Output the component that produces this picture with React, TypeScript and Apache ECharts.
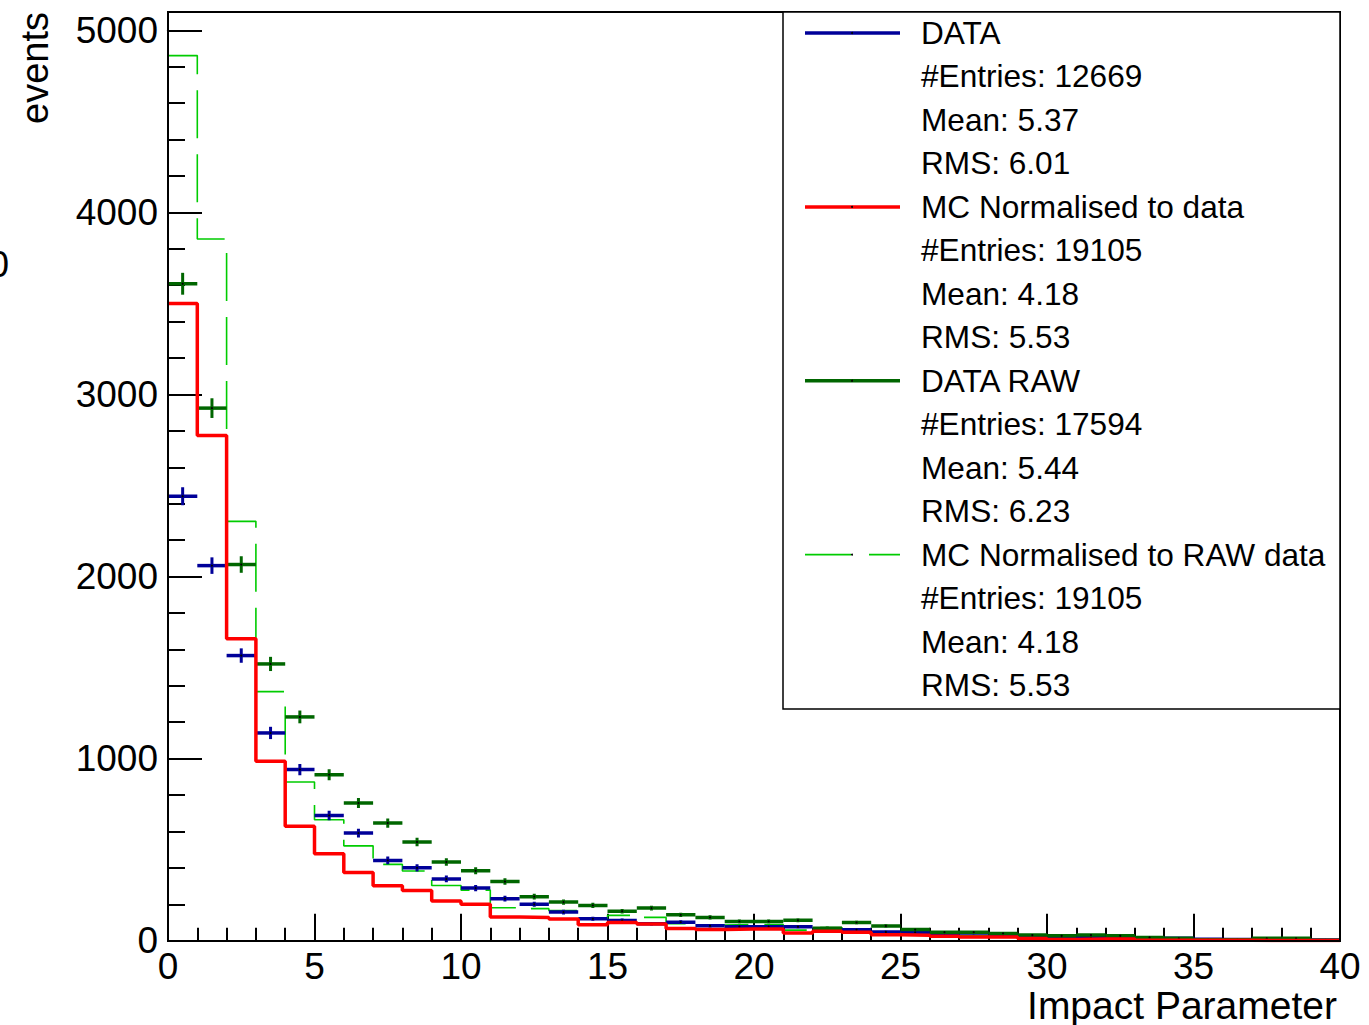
import { useEffect, useRef } from "react";
import * as echarts from "echarts";

// bin lower edges (bin width 1)
const BIN_LOW = [0, 1, 2, 3, 4, 5, 6, 7, 8, 9, 10, 11, 12, 13, 14, 15, 16, 17, 18, 19,
  20, 21, 22, 23, 24, 25, 26, 27, 28, 29, 30, 31, 32, 33, 34, 35, 36, 37, 38, 39];
const BIN_WIDTH = 1;

const DATA = [2441, 2060, 1566, 1141, 940, 688, 591, 441, 400, 339, 289, 231, 200, 157, 120, 111, 93, 102, 82, 77,
  77, 77, 64, 60, 48, 46, 40, 42, 33, 27, 22, 20, 18, 13, 13, 8, 7, 8, 6, 4];
const DATA_RAW = [3608, 2925, 2066, 1520, 1229, 912, 756, 646, 542, 432, 384, 325, 242, 212, 194, 162, 179, 142, 128, 106,
  106, 112, 69, 100, 81, 61, 47, 47, 40, 31, 27, 31, 27, 18, 13, 5, 5, 13, 13, 2];
const MC_DATA = [3500, 2775, 1658, 985, 628, 478, 375, 302, 276, 218, 200, 130, 127, 119, 88, 100, 92, 67, 62, 64,
  64, 42, 52, 46, 33, 30, 24, 20, 20, 12, 6, 9, 9, 2, 2, 2, 2, 1, 1, 1];
const MC_RAW = [4861, 3854, 2303, 1368, 872, 664, 521, 419, 383, 303, 278, 181, 176, 165, 122, 139, 128, 93, 86, 89,
  89, 58, 72, 64, 46, 42, 33, 28, 28, 17, 8, 13, 13, 3, 3, 3, 3, 1, 1, 1];

const X_MIN = 0;
const X_MAX = 40;
const Y_MIN = 0;
const Y_MAX = 5000;

const LEGEND_NAMES = ["DATA", "MC Normalised to data", "DATA RAW", "MC Normalised to RAW data"];
const LEGEND_ENTRIES = ["#Entries: 12669", "#Entries: 19105", "#Entries: 17594", "#Entries: 19105"];
const LEGEND_MEANS = ["Mean: 5.37", "Mean: 4.18", "Mean: 5.44", "Mean: 4.18"];
const LEGEND_RMS = ["RMS: 6.01", "RMS: 5.53", "RMS: 6.23", "RMS: 5.53"];

const X_TITLE = "Impact Parameter";
const Y_TITLE = "events";

const BLUE = "#000099";
const RED = "#ff0000";
const DKGREEN = "#006600";
const LTGREEN = "#00cc00";
const FONT = "Liberation Sans, Arial, Helvetica, sans-serif";

const LEG_COLORS = [BLUE, RED, DKGREEN, LTGREEN];
const LEG_WIDTHS = [3.5, 3.5, 3.5, 1.6];
const LEG_DASH: (number[] | null)[] = [null, null, null, [46, 18]];

function histLine(values: number[]) {
  const pts = BIN_LOW.map((x, i) => [x, values[i]]);
  pts.push([BIN_LOW[BIN_LOW.length - 1] + BIN_WIDTH, values[values.length - 1]]);
  return pts;
}

function errorSeries(values: number[], color: string, name: string) {
  return {
    type: "custom",
    name,
    data: BIN_LOW.map((x, i) => [x, values[i]]),
    encode: { x: 0, y: 1 },
    clip: true,
    z: 3,
    renderItem: (params: any, api: any) => {
      const x0 = api.value(0);
      const v = api.value(1);
      const e = Math.sqrt(v);
      const pL = api.coord([x0, v]);
      const pR = api.coord([x0 + BIN_WIDTH, v]);
      const pT = api.coord([x0 + BIN_WIDTH / 2, v + e]);
      const pB = api.coord([x0 + BIN_WIDTH / 2, Math.max(0, v - e)]);
      return {
        type: "group",
        children: [
          { type: "line", shape: { x1: pL[0], y1: pL[1], x2: pR[0], y2: pR[1] }, style: { stroke: color, lineWidth: 3.5 } },
          { type: "line", shape: { x1: pT[0], y1: pT[1], x2: pB[0], y2: pB[1] }, style: { stroke: color, lineWidth: 3 } },
          { type: "circle", shape: { cx: (pL[0] + pR[0]) / 2, cy: pL[1], r: 1.1 }, style: { fill: "#000" } },
        ],
      };
    },
  };
}

export default function App() {
  const ref = useRef<HTMLDivElement>(null);
  useEffect(() => {
    if (!ref.current) return;
    const chart = echarts.init(ref.current, null, { renderer: "svg" });

    const legendGraphics: any[] = [
      {
        type: "rect",
        z: 50,
        shape: { x: 783, y: 12, width: 557, height: 697 },
        style: { fill: "#fff", stroke: "#000", lineWidth: 1.5 },
      },
    ];
    const rowH = 43.47;
    for (let k = 0; k < 4; k++) {
      const baseRow = k * 4;
      const yLine = 33 + baseRow * rowH;
      legendGraphics.push({
        type: "line",
        z: 51,
        shape: { x1: 805, y1: yLine, x2: 900, y2: yLine },
        style: { stroke: LEG_COLORS[k], lineWidth: LEG_WIDTHS[k], lineDash: LEG_DASH[k] || undefined },
      });
      legendGraphics.push({
        type: "circle",
        z: 52,
        shape: { cx: 852, cy: yLine, r: 1 },
        style: { fill: "#000" },
      });
      const texts = [LEGEND_NAMES[k], LEGEND_ENTRIES[k], LEGEND_MEANS[k], LEGEND_RMS[k]];
      texts.forEach((t, j) => {
        legendGraphics.push({
          type: "text",
          z: 52,
          x: 921,
          y: 33 + (baseRow + j) * rowH,
          style: { text: t, fontSize: 31.6, fontFamily: FONT, fill: "#000", align: "left", verticalAlign: "middle" },
        });
      });
    }

    const option: any = {
      animation: false,
      backgroundColor: "#fff",
      grid: { left: 168, right: 29, top: 30.3, bottom: 84.3, containLabel: false },
      xAxis: {
        type: "value",
        min: X_MIN,
        max: X_MAX,
        interval: 5,
        axisLine: { show: true, lineStyle: { color: "#000", width: 2 } },
        axisTick: { show: true, inside: true, length: 27, lineStyle: { color: "#000", width: 2 } },
        minorTick: { show: true, splitNumber: 5, length: 13, lineStyle: { color: "#000", width: 2 } },
        axisLabel: { color: "#000", fontSize: 37, fontFamily: FONT, margin: 7, formatter: (v: number) => String(v) },
        splitLine: { show: false },
      },
      yAxis: {
        type: "value",
        min: Y_MIN,
        max: Y_MAX,
        interval: 1000,
        axisLine: { show: true, lineStyle: { color: "#000", width: 2 } },
        axisTick: { show: true, inside: true, length: 34, lineStyle: { color: "#000", width: 2 } },
        minorTick: { show: true, splitNumber: 5, length: 17, lineStyle: { color: "#000", width: 2 } },
        axisLabel: { color: "#000", fontSize: 37, fontFamily: FONT, margin: 10, formatter: (v: number) => String(v) },
        splitLine: { show: false },
      },
      graphic: [
        {
          type: "rect",
          z: 40,
          shape: { x: 168, y: 12, width: 1172, height: 929 },
          style: { fill: "none", stroke: "#000", lineWidth: 2 },
        },
        {
          type: "text",
          x: 1337,
          y: 1005,
          style: { text: X_TITLE, fontSize: 39, fontFamily: FONT, fill: "#000", align: "right", verticalAlign: "middle" },
        },
        {
          type: "text",
          x: 35,
          y: 12,
          rotation: Math.PI / 2,
          style: { text: Y_TITLE, fontSize: 38, fontFamily: FONT, fill: "#000", align: "right", verticalAlign: "middle" },
        },
        {
          type: "text",
          x: 9,
          y: 264,
          style: { text: "0", fontSize: 37, fontFamily: FONT, fill: "#000", align: "right", verticalAlign: "middle" },
        },
        ...legendGraphics,
      ],
      series: [
        {
          type: "line",
          name: "MC Normalised to RAW data",
          data: histLine(MC_RAW),
          step: "end",
          showSymbol: false,
          symbol: "none",
          z: 2,
          lineStyle: { color: LTGREEN, width: 1.6, type: [48, 16] },
        },
        errorSeries(DATA, BLUE, "DATA"),
        errorSeries(DATA_RAW, DKGREEN, "DATA RAW"),
        {
          type: "line",
          name: "MC Normalised to data",
          data: histLine(MC_DATA),
          step: "end",
          showSymbol: false,
          symbol: "none",
          z: 4,
          lineStyle: { color: RED, width: 3.5 },
        },
      ],
    };
    chart.setOption(option);
    return () => chart.dispose();
  }, []);

  return (
    <div
      ref={ref}
      style={{ position: "absolute", left: 0, top: 0, width: 1369, height: 1025, background: "#fff" }}
    />
  );
}
